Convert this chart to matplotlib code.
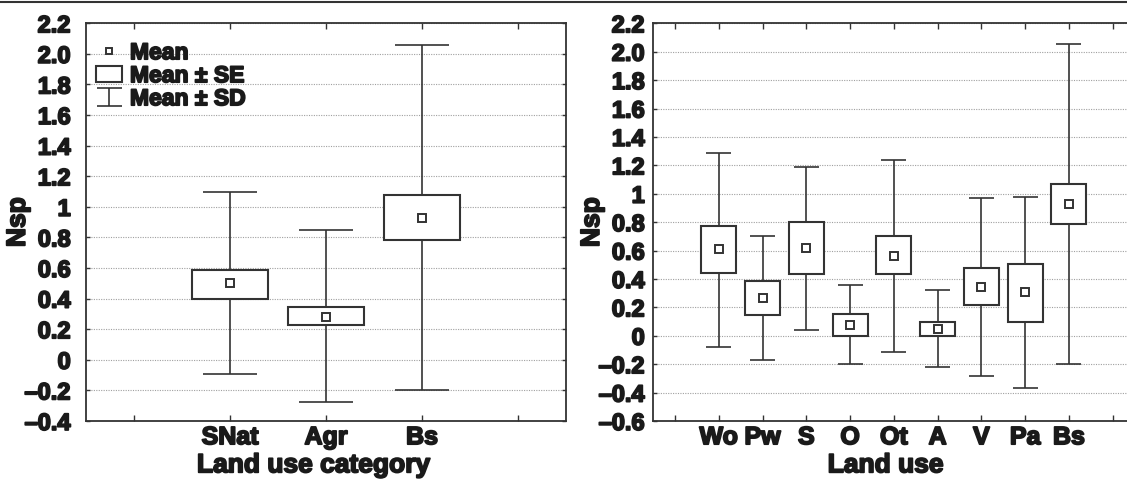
import matplotlib
matplotlib.use('Agg')

import matplotlib.pyplot as plt
import matplotlib.patheffects as pe
from matplotlib.lines import Line2D
from matplotlib.patches import Rectangle
from matplotlib.path import Path

plt.rcParams['font.family'] = ['Liberation Sans', 'DejaVu Sans']
plt.rcParams['font.weight'] = 'bold'

# Left panel: land use category
cat_names = ["SNat", "Agr", "Bs"]
cat_mean = [0.50, 0.28, 0.925]
cat_se_lo = [0.40, 0.225, 0.785]
cat_se_hi = [0.59, 0.345, 1.075]
cat_sd_lo = [-0.09, -0.275, -0.195]
cat_sd_hi = [1.095, 0.85, 2.055]
cat_yticks = [-0.4, -0.2, 0, 0.2, 0.4, 0.6, 0.8, 1.0, 1.2, 1.4, 1.6, 1.8, 2.0, 2.2]
cat_ylabels = ["–0.4", "–0.2", "0", "0.2", "0.4", "0.6", "0.8", "1", "1.2",
               "1.4", "1.6", "1.8", "2.0", "2.2"]

# Right panel: land use
lu_names = ["Wo", "Pw", "S", "O", "Ot", "A", "V", "Pa", "Bs"]
lu_mean = [0.61, 0.265, 0.615, 0.075, 0.565, 0.05, 0.345, 0.305, 0.93]
lu_se_lo = [0.445, 0.145, 0.435, 0.0, 0.435, 0.0, 0.215, 0.10, 0.787]
lu_se_hi = [0.77, 0.385, 0.80, 0.155, 0.70, 0.10, 0.475, 0.505, 1.07]
lu_sd_lo = [-0.08, -0.17, 0.04, -0.20, -0.115, -0.22, -0.28, -0.37, -0.20]
lu_sd_hi = [1.29, 0.705, 1.19, 0.355, 1.24, 0.325, 0.97, 0.98, 2.055]
lu_yticks = [-0.6, -0.4, -0.2, 0, 0.2, 0.4, 0.6, 0.8, 1.0, 1.2, 1.4, 1.6, 1.8, 2.0, 2.2]
lu_ylabels = ["–0.6", "–0.4", "–0.2", "0", "0.2", "0.4", "0.6", "0.8", "1", "1.2",
              "1.4", "1.6", "1.8", "2.0", "2.2"]

INK = '#333333'
TXT = '#1a1a1a'
heavy = [pe.withStroke(linewidth=1.3, foreground=TXT)]


def draw_panel(ax, names, mean, se_lo, se_hi, sd_lo, sd_hi, yticks, ylabels, xlabel,
               ypad, ylab_x, xlab_x):
    n = len(names)
    pos = list(range(1, n + 1))
    # whiskers (Mean +- SD)
    ax.vlines(pos, sd_lo, sd_hi, color=INK, lw=1.2, zorder=2)
    ax.hlines(sd_lo, [p - 0.285 for p in pos], [p + 0.285 for p in pos], color=INK, lw=1.2, zorder=2)
    ax.hlines(sd_hi, [p - 0.285 for p in pos], [p + 0.285 for p in pos], color=INK, lw=1.2, zorder=2)
    # boxes (Mean +- SE)
    ax.bar(pos, [h - l for h, l in zip(se_hi, se_lo)], bottom=se_lo, width=0.8,
           facecolor='white', edgecolor=INK, linewidth=1.5, zorder=3)
    # means
    ax.plot(pos, mean, 's', ms=5.5, mfc='white', mec=INK, mew=1.4, zorder=4, linestyle='none')

    ax.set_xlim(-0.5, n + 1.5)
    ax.set_ylim(yticks[0], yticks[-1])
    ax.set_yticks(yticks)
    ax.set_yticklabels(ylabels)
    ax.set_xticks(range(0, n + 2))
    ax.set_xticklabels([''] + names + [''])
    ax.tick_params(axis='y', direction='in', length=3, width=1, color=INK,
                   left=True, right=True, labelsize=17, pad=ypad, labelcolor=TXT)
    ax.tick_params(axis='x', direction='in', length=4, width=1, color=INK,
                   bottom=True, top=True, labelsize=18, pad=3, labelcolor=TXT)
    for lab in ax.get_xticklabels() + ax.get_yticklabels():
        lab.set_fontweight('bold')
        lab.set_path_effects(heavy)
    ax.grid(axis='y', color='#a0a0a0', lw=0.8, linestyle=(0, (1, 1.2)), zorder=0)
    ax.set_axisbelow(True)
    for sp in ax.spines.values():
        sp.set_color(INK)
        sp.set_linewidth(1.3)
    ax.set_ylabel("Nsp", fontsize=19, fontweight='bold', color=TXT,
                  path_effects=heavy, va='center')
    ax.yaxis.set_label_coords(ylab_x, 0.5)
    ax.set_xlabel(xlabel, fontsize=19, fontweight='bold', color=TXT,
                  path_effects=heavy, va='baseline')
    ax.xaxis.set_label_coords(xlab_x, -0.129)


fig = plt.figure(figsize=(11.27, 4.79), dpi=100)
ax1 = fig.add_axes([0.0763, 0.1211, 0.4259, 0.8303])
ax2 = fig.add_axes([0.5795, 0.1211, 0.4272, 0.8303])

draw_panel(ax1, cat_names, cat_mean, cat_se_lo, cat_se_hi, cat_sd_lo, cat_sd_hi,
           cat_yticks, cat_ylabels, "Land use category", 11, -0.142, 0.474)
draw_panel(ax2, lu_names, lu_mean, lu_se_lo, lu_se_hi, lu_sd_lo, lu_sd_hi,
           lu_yticks, lu_ylabels, "Land use", 6, -0.127, 0.483)
ax2.spines['right'].set_visible(False)

# legend (left panel)
sd_path = Path([(-1, 0.7), (1, 0.7), (0, 0.7), (0, -0.7), (-1, -0.7), (1, -0.7)],
               [Path.MOVETO, Path.LINETO, Path.MOVETO, Path.LINETO, Path.MOVETO, Path.LINETO])
h_mean = Line2D([], [], marker='s', ms=5, mfc='white', mec=INK, mew=1.4, linestyle='none')
h_se = Rectangle((0, 0), 1, 1, facecolor='white', edgecolor=INK, linewidth=1.5)
h_sd = Line2D([], [], marker=sd_path, ms=18, mec=INK, mew=1.2, linestyle='none')
leg = ax1.legend([h_mean, h_se, h_sd], ["Mean", "Mean ± SE", "Mean ± SD"],
                 loc='upper left', bbox_to_anchor=(0.02, 0.955), frameon=False,
                 prop={'size': 16.5, 'weight': 'bold'}, handlelength=1.15,
                 handletextpad=0.35, labelspacing=0.0, borderaxespad=0, borderpad=0)
for t in leg.get_texts():
    t.set_color(TXT)
    t.set_path_effects(heavy)

# top border line
fig.add_artist(Line2D([0, 1], [0.9965, 0.9965], color=INK, lw=1.5, transform=fig.transFigure))

fig.savefig("out.png", dpi=100)
